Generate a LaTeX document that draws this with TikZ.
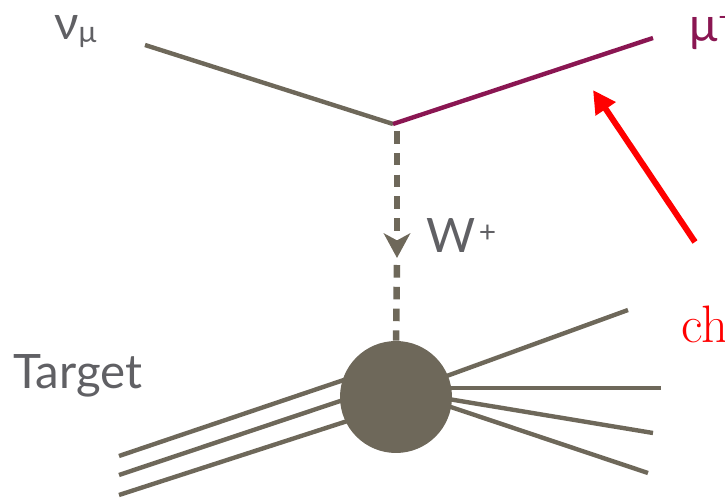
\documentclass[tikz,border=0pt]{standalone}
\usepackage{fontspec}
\newfontfamily\labelfont{Lato}
\usetikzlibrary{arrows.meta,backgrounds}
\definecolor{feynolive}{RGB}{110,104,90}
\definecolor{muonpurple}{RGB}{138,22,82}
\definecolor{labelgray}{RGB}{96,96,100}

\begin{document}
\begin{tikzpicture}[x=0.02cm, y=-0.02cm,
    fermion/.style={draw=feynolive, line width=2.5pt},
    boson/.style={draw=feynolive, line width=3.7pt, dash pattern=on 7.2pt off 5.2pt},
    lbl/.style={text=labelgray, font=\labelfont\fontsize{27}{30}\selectfont, inner sep=0pt, anchor=base west}]
    \useasboundingbox (0,0) rectangle (725,503);

    % Vértice: neutrino entra, múon sai
    \coordinate (vtx) at (393,124);
    \coordinate (nuin) at (145,45);
    \coordinate (muout) at (653,38);
    \draw[fermion] (nuin) -- (vtx);
    \draw[fermion, draw=muonpurple] (vtx) -- (muout);

    % Alvo e jatos (jatos atrás da bolha)
    \node[circle, fill=feynolive, inner sep=0pt, minimum size=2.24cm] (blob) at (396,397) {};
    \coordinate (tgtA) at (119,456);
    \coordinate (tgtB) at (119,475);
    \coordinate (tgtC) at (119,495);
    \coordinate (outA) at (628,310);
    \coordinate (outB) at (661,388);
    \coordinate (outC) at (653,433);
    \coordinate (outD) at (648,473);
    \begin{scope}[on background layer]
        \draw[fermion] (tgtA) -- ([shift={(4,-36)}]blob.center);
        \draw[fermion] (tgtB) -- ([shift={(4,-16)}]blob.center);
        \draw[fermion] (tgtC) -- ([shift={(4,7)}]blob.center);
        \draw[fermion] (outA) -- ([shift={(4,-4)}]blob.center);
        \draw[fermion] (outB) -- ([shift={(4,-9)}]blob.center);
        \draw[fermion] (outC) -- ([shift={(4,-6)}]blob.center);
        \draw[fermion] (outD) -- ([shift={(4,-7)}]blob.center);
    \end{scope}

    % Bóson W tracejado
    \coordinate (wtop) at (397,131);
    \coordinate (wtip) at (397,258);
    \coordinate (wlow) at (397,265);
    \draw[boson, -{Stealth[length=14pt, width=15pt, inset=4pt]}] (wtop) -- (wtip);
    \draw[boson] (wlow) -- (blob.north);

    % Rótulos
    \node[lbl] (nulbl) at (54,40) {ν\raisebox{-1.7pt}{\fontsize{17}{18}\selectfont μ}};
    \node[lbl, text=muonpurple] (mulbl) at (689,42) {μ\raisebox{8pt}{\fontsize{17}{18}\selectfont −}};
    \node[lbl] (wlbl) at (426,253) {W\hspace{2pt}\raisebox{5.7pt}{\fontsize{17}{18}\selectfont +}};
    \node[lbl] (tgtlbl) at (13,389) {Target};

    % Seta vermelha
    \coordinate (arrtail) at (695,242);
    \coordinate (arrhead) at (593,90);
    \draw[red, line width=3.4pt, -{Triangle[length=13pt, width=13pt]}] (arrtail) -- (arrhead);
    \node[text=red, font=\fontsize{30}{34}\selectfont, inner sep=0pt, anchor=base west] (chlbl) at (681,343) {ch};
\end{tikzpicture}
\end{document}
